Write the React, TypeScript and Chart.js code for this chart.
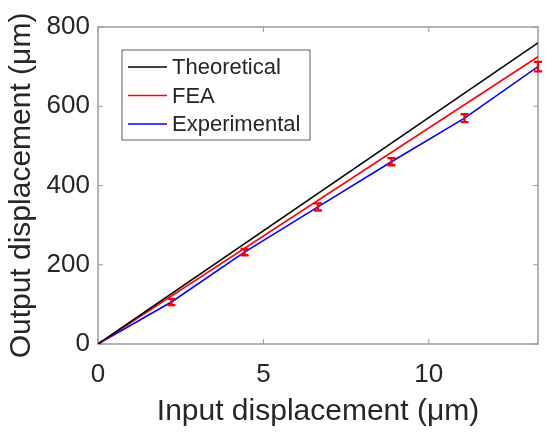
import { useEffect, useRef } from "react";
import Chart from "chart.js/auto";

const xMax = 13.3;
const yMax = 800;
const xTicks = [0, 5, 10];
const yTicks = [0, 200, 400, 600, 800];

const seriesNames = ["Theoretical", "FEA", "Experimental"];
const seriesColors = ["#000000", "#ff0000", "#0000ff"];

const theoryX = [0, 13.3];
const theoryY = [0, 760];
const feaX = [0, 13.3];
const feaY = [0, 725];
const expX = [0, 2.22, 4.43, 6.65, 8.87, 11.08, 13.3];
const expY = [0, 106, 232, 346, 460, 570, 700];
const expErr = [0, 8, 8, 9, 9, 10, 12];

const FONT = "'Liberation Sans', Arial, sans-serif";
const TEXT = "#262626";
const AXIS = "#9a9a9a";

const pts = (xs: number[], ys: number[]) => xs.map((x, i) => ({ x, y: ys[i] }));

const framePlugin = {
  id: "frame",
  beforeDatasetsDraw(chart: any) {
    const { ctx, chartArea: a, scales } = chart;
    ctx.save();
    ctx.strokeStyle = AXIS;
    ctx.lineWidth = 1.5;
    ctx.strokeRect(a.left, a.top, a.right - a.left, a.bottom - a.top);
    ctx.lineWidth = 1;
    ctx.beginPath();
    xTicks.forEach((v) => {
      const px = scales.x.getPixelForValue(v);
      ctx.moveTo(px, a.bottom);
      ctx.lineTo(px, a.bottom - 5);
      ctx.moveTo(px, a.top);
      ctx.lineTo(px, a.top + 5);
    });
    yTicks.forEach((v) => {
      const py = scales.y.getPixelForValue(v);
      ctx.moveTo(a.left, py);
      ctx.lineTo(a.left + 5, py);
      ctx.moveTo(a.right, py);
      ctx.lineTo(a.right - 5, py);
    });
    ctx.stroke();
    ctx.restore();
  },
  afterDatasetsDraw(chart: any) {
    const { ctx, scales } = chart;
    ctx.save();
    ctx.strokeStyle = "#ff0000";
    ctx.lineWidth = 2.4;
    expX.forEach((x, i) => {
      if (!expErr[i]) return;
      const px = scales.x.getPixelForValue(x);
      const top = scales.y.getPixelForValue(expY[i] + expErr[i]);
      const bot = scales.y.getPixelForValue(expY[i] - expErr[i]);
      ctx.beginPath();
      ctx.moveTo(px, top);
      ctx.lineTo(px, bot);
      ctx.moveTo(px - 4, top);
      ctx.lineTo(px + 4, top);
      ctx.moveTo(px - 4, bot);
      ctx.lineTo(px + 4, bot);
      ctx.stroke();
    });
    ctx.restore();
  },
  afterDraw(chart: any) {
    const { ctx } = chart;
    const left = 122, top = 50, w = 188, h = 90;
    ctx.save();
    ctx.fillStyle = "#ffffff";
    ctx.fillRect(left, top, w, h);
    ctx.strokeStyle = "#7a7a7a";
    ctx.lineWidth = 1.2;
    ctx.strokeRect(left, top, w, h);
    ctx.font = `22px ${FONT}`;
    ctx.textBaseline = "middle";
    seriesNames.forEach((name, i) => {
      const y = top + 17 + i * 28.5;
      ctx.strokeStyle = seriesColors[i];
      ctx.lineWidth = 1.5;
      ctx.beginPath();
      ctx.moveTo(left + 6, y);
      ctx.lineTo(left + 45, y);
      ctx.stroke();
      ctx.fillStyle = TEXT;
      ctx.fillText(name, left + 50, y + 1);
    });
    ctx.restore();
  },
};

export default function App() {
  const ref = useRef<HTMLCanvasElement>(null);

  useEffect(() => {
    if (!ref.current) return;
    const chart = new Chart(ref.current, {
      type: "scatter",
      data: {
        datasets: [
          { label: seriesNames[0], data: pts(theoryX, theoryY), borderColor: seriesColors[0] },
          { label: seriesNames[1], data: pts(feaX, feaY), borderColor: seriesColors[1] },
          { label: seriesNames[2], data: pts(expX, expY), borderColor: seriesColors[2] },
        ].map((d) => ({ ...d, showLine: true, pointRadius: 0, borderWidth: 1.6, fill: false })),
      },
      options: {
        responsive: false,
        animation: false,
        layout: { padding: { top: 27, right: 12, left: 0, bottom: 0 } },
        plugins: { legend: { display: false }, tooltip: { enabled: false } },
        scales: {
          x: {
            type: "linear",
            min: 0,
            max: xMax,
            afterBuildTicks: (s: any) => { s.ticks = xTicks.map((v) => ({ value: v })); },
            afterFit: (s: any) => { s.height = 90; },
            grid: { display: false, drawTicks: false },
            border: { display: false },
            ticks: { color: TEXT, font: { family: FONT, size: 26 }, padding: 15, maxRotation: 0 },
            title: {
              display: true,
              text: "Input displacement (μm)",
              color: TEXT,
              font: { family: FONT, size: 30 },
              padding: { top: 0, bottom: 4 },
            },
          },
          y: {
            type: "linear",
            min: 0,
            max: yMax,
            afterBuildTicks: (s: any) => { s.ticks = yTicks.map((v) => ({ value: v })); },
            afterFit: (s: any) => { s.width = 98; },
            grid: { display: false, drawTicks: false },
            border: { display: false },
            ticks: { color: TEXT, font: { family: FONT, size: 26 }, padding: 8 },
            title: {
              display: true,
              text: "Output displacement (μm)",
              color: TEXT,
              font: { family: FONT, size: 30 },
              padding: { top: 4, bottom: 0 },
            },
          },
        },
      },
      plugins: [framePlugin],
    });
    return () => chart.destroy();
  }, []);

  return (
    <div style={{ position: "absolute", left: 0, top: 0, width: 550, height: 434, background: "#fff" }}>
      <canvas ref={ref} width={550} height={434}></canvas>
    </div>
  );
}
